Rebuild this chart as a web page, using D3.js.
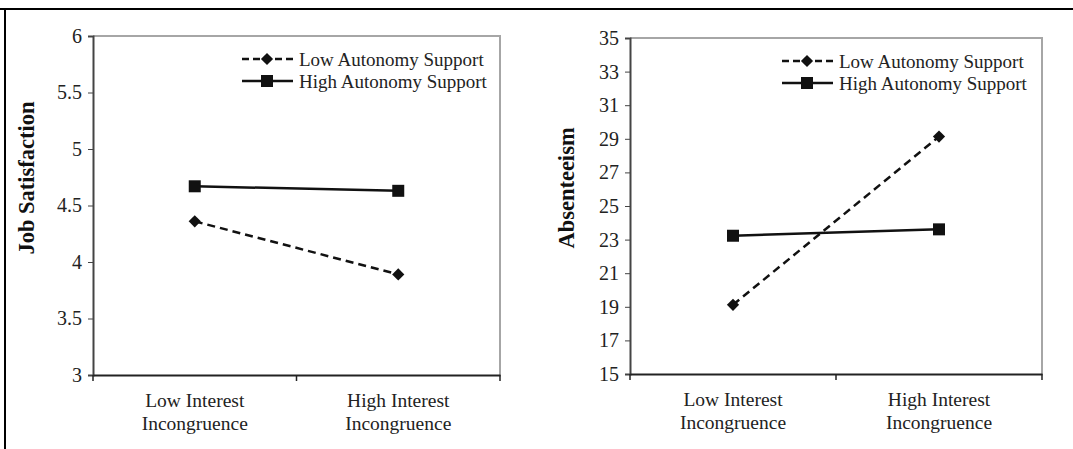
<!DOCTYPE html>
<html><head><meta charset="utf-8">
<script src="https://cdn.jsdelivr.net/npm/d3@7"></script>
<style>
html,body{margin:0;padding:0;background:#fff;}
svg text{font-family:"Liberation Serif","Times New Roman",serif;}
</style></head>
<body><svg id="c" width="1073" height="449"></svg>
<script>
const categories = ["Low Interest|Incongruence", "High Interest|Incongruence"];
const seriesNames = ["Low Autonomy Support", "High Autonomy Support"];
const jobLow = [4.36, 3.89];
const jobHigh = [4.67, 4.63];
const absLow = [19.12, 29.13];
const absHigh = [23.23, 23.61];
const jobTicks = [3, 3.5, 4, 4.5, 5, 5.5, 6];
const absTicks = [15, 17, 19, 21, 23, 25, 27, 29, 31, 33, 35];

const svg = d3.select("#c");
// outer frame
svg.append("line").attr("x1",0).attr("x2",1073).attr("y1",9).attr("y2",9).attr("stroke","#000").attr("stroke-width",2);
svg.append("line").attr("x1",5).attr("x2",5).attr("y1",8).attr("y2",449).attr("stroke","#000").attr("stroke-width",2);

function panel(o){
  const g = svg.append("g");
  const x = d3.scaleBand().domain(categories).range([o.x0, o.x1]);
  const y = d3.scaleLinear().domain(o.domain).range([o.y1, o.y0]);
  g.append("path").attr("d",`M${o.x0},${o.y0}H${o.x1}V${o.y1}`).attr("fill","none").attr("stroke","#a6a6a6").attr("stroke-width",2);
  const ya = g.append("g").attr("transform",`translate(${o.x0},0)`)
    .call(d3.axisLeft(y).tickValues(o.ticks).tickSize(5).tickPadding(6).tickFormat(d=>String(d)));
  ya.select(".domain").attr("stroke","#444").attr("stroke-width",2);
  ya.selectAll(".tick line").attr("stroke","#444");
  ya.selectAll(".tick text").attr("font-size","20px").attr("fill","#222").attr("font-family","Liberation Serif, serif");
  const xa = g.append("g").attr("transform",`translate(0,${o.y1})`)
    .call(d3.axisBottom(x).tickSize(0).tickFormat(""));
  xa.select(".domain").attr("stroke","#222").attr("stroke-width",2);
  [o.x0, (o.x0+o.x1)/2, o.x1].forEach(v=>{
    g.append("line").attr("x1",v).attr("x2",v).attr("y1",o.y1).attr("y2",o.y1+6).attr("stroke","#222").attr("stroke-width",1.5);
  });
  categories.forEach(c=>{
    const parts=c.split("|");
    const t=g.append("text").attr("text-anchor","middle").attr("font-size","19.5px").attr("fill","#222");
    parts.forEach((p,i)=>t.append("tspan").attr("x",x(c)+x.bandwidth()/2).attr("y",o.y1+32+i*23).text(p));
  });
  g.append("text").attr("transform",`translate(${o.tx},${o.ty}) rotate(-90)`).attr("text-anchor","middle")
    .attr("font-size",o.tsize).attr("font-weight","bold").attr("fill","#111").text(o.title);
  const cx = c=>x(c)+x.bandwidth()/2;
  const line = d3.line().x((d,i)=>cx(categories[i])).y(d=>y(d));
  g.append("path").datum(o.low).attr("d",line).attr("fill","none").attr("stroke","#111").attr("stroke-width",2.5).attr("stroke-dasharray","8,5");
  g.append("path").datum(o.high).attr("d",line).attr("fill","none").attr("stroke","#111").attr("stroke-width",2.5);
  const dia = d3.symbol().type(d3.symbolDiamond2).size(95);
  g.selectAll(".dm").data(o.low).join("path").attr("transform",(d,i)=>`translate(${cx(categories[i])},${y(d)})`).attr("d",dia).attr("fill","#111");
  g.selectAll(".sq").data(o.high).join("rect").attr("x",(d,i)=>cx(categories[i])-6).attr("y",d=>y(d)-6).attr("width",12).attr("height",12).attr("fill","#111");
  const lg = g.append("g").attr("transform",`translate(${o.lx},${o.ly})`);
  lg.append("line").attr("x1",0).attr("x2",51).attr("y1",0).attr("y2",0).attr("stroke","#111").attr("stroke-width",2.5).attr("stroke-dasharray","7,4");
  lg.append("path").attr("transform","translate(25,0)").attr("d",dia).attr("fill","#111");
  lg.append("text").attr("x",57).attr("y",6.5).attr("font-size","19px").attr("fill","#222").text(seriesNames[0]);
  lg.append("line").attr("x1",0).attr("x2",51).attr("y1",22).attr("y2",22).attr("stroke","#111").attr("stroke-width",2.5);
  lg.append("rect").attr("x",19).attr("y",16).attr("width",12).attr("height",12).attr("fill","#111");
  lg.append("text").attr("x",57).attr("y",28.5).attr("font-size","19px").attr("fill","#222").text(seriesNames[1]);
}

panel({x0:93,x1:500,y0:36,y1:375,domain:[3,6],ticks:jobTicks,low:jobLow,high:jobHigh,title:"Job Satisfaction",tsize:"22.5px",tx:34,ty:178,lx:242,ly:59});
panel({x0:630,x1:1042,y0:38,y1:374,domain:[15,35],ticks:absTicks,low:absLow,high:absHigh,title:"Absenteeism",tsize:"22.5px",tx:574,ty:188,lx:782,ly:61});
</script></body></html>
